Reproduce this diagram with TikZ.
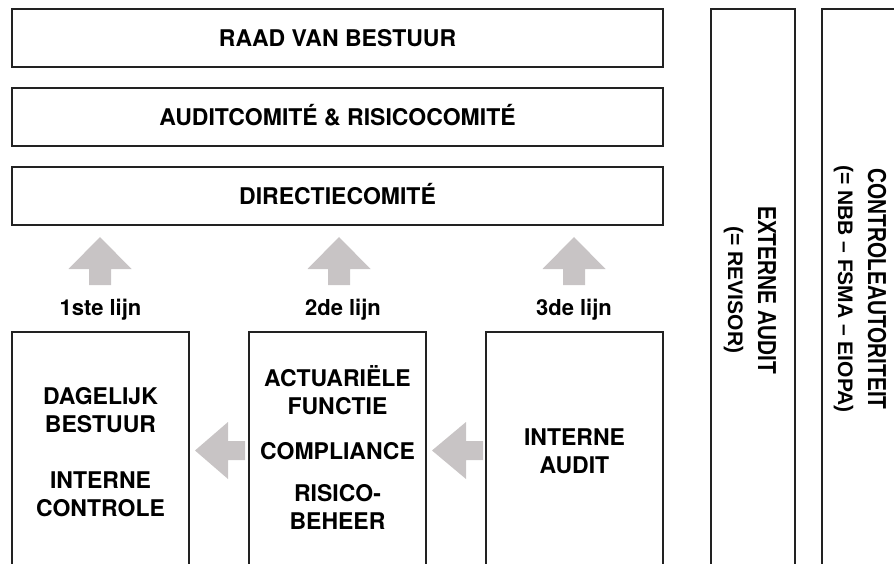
\documentclass[tikz,border=0pt]{standalone}
\usepackage{fontspec}
\setmainfont{TeX Gyre Heros}
\newfontfamily\sidefont{Liberation Sans}
\newfontfamily\sidefontnarrow[FakeStretch=0.8]{Liberation Sans}
\definecolor{linecol}{RGB}{34,34,34}
\definecolor{arrowgray}{RGB}{200,196,197}
\tikzset{
  frame/.style={draw=linecol, line width=1.5bp},
  bigbox/.style={frame, minimum width=651bp, minimum height=58bp, inner sep=0pt,
    font=\bfseries\fontsize{23bp}{28bp}\selectfont, text height=16.5bp, text depth=0pt},
  boxtext/.style={align=center, inner sep=0pt, font=\bfseries\fontsize{23bp}{28bp}\selectfont},
  linelabel/.style={anchor=base, inner sep=0pt, font=\bfseries\fontsize{22bp}{26bp}\selectfont},
  sidemain/.style={anchor=base, rotate=-90, inner sep=0pt, font=\sidefontnarrow\bfseries\fontsize{26bp}{30bp}\selectfont},
  sidesub/.style={anchor=base, rotate=-90, inner sep=0pt, font=\sidefont\bfseries\fontsize{21bp}{25bp}\selectfont},
  blockarrow/.style={fill=arrowgray, draw=none}
}
\begin{document}
\begin{tikzpicture}[x=1bp, y=-1bp]
\useasboundingbox (0,0) rectangle (894,564);

% governing bodies
\node[bigbox] (raad) at (337.5,38) {RAAD VAN BESTUUR};
\node[bigbox] (audit) at (337.5,117) {AUDITCOMITÉ \& RISICOCOMITÉ};
\node[bigbox] (dir) at (337.5,196) {DIRECTIECOMITÉ};

% external columns, open at the bottom
\draw[frame] (711,564) -- (711,9) -- (795,9) -- (795,564);
\draw[frame] (822,564) -- (822,9) -- (894,9);
\node[sidemain] (ext) at (758,290) {EXTERNE AUDIT};
\node[sidesub] (rev) at (728,290) {(= REVISOR)};
\node[sidemain] (ctrl) at (868,289) {CONTROLEAUTORITEIT};
\node[sidesub] (nbb) at (838,289) {(= NBB – FSMA – EIOPA)};

% three lines of defence, open at the bottom
\draw[frame] (12,564) -- (12,332) -- (189,332) -- (189,564);
\draw[frame] (249,564) -- (249,332) -- (426,332) -- (426,564);
\draw[frame] (486,564) -- (486,332) -- (663,332) -- (663,564);

\node[boxtext] (first) at (100.5,452) {DAGELIJK\\BESTUUR\\[28bp]INTERNE\\CONTROLE};
\node[boxtext] (second) at (337.5,448) {ACTUARIËLE\\FUNCTIE\\[17bp]COMPLIANCE\\[14bp]RISICO-\\BEHEER};
\node[boxtext] (third) at (574.5,451.5) {INTERNE\\AUDIT};

\node[linelabel] (l1) at (100.5,315) {1ste lijn};
\node[linelabel] (l2) at (343,315) {2de lijn};
\node[linelabel] (l3) at (574,315) {3de lijn};

% upward block arrows
\foreach \cx in {100,339,574}{
  \fill[blockarrow] (\cx,237) -- (\cx+31.5,269) -- (\cx+11,269) -- (\cx+11,285)
    -- (\cx-11,285) -- (\cx-11,269) -- (\cx-31.5,269) -- cycle;
}

% leftward block arrows
\foreach \tx/\bx/\ex in {195/228/245, 432/466/483}{
  \fill[blockarrow] (\tx,450.5) -- (\bx,422) -- (\bx,441) -- (\ex,441)
    -- (\ex,460) -- (\bx,460) -- (\bx,479) -- cycle;
}
\end{tikzpicture}
\end{document}
